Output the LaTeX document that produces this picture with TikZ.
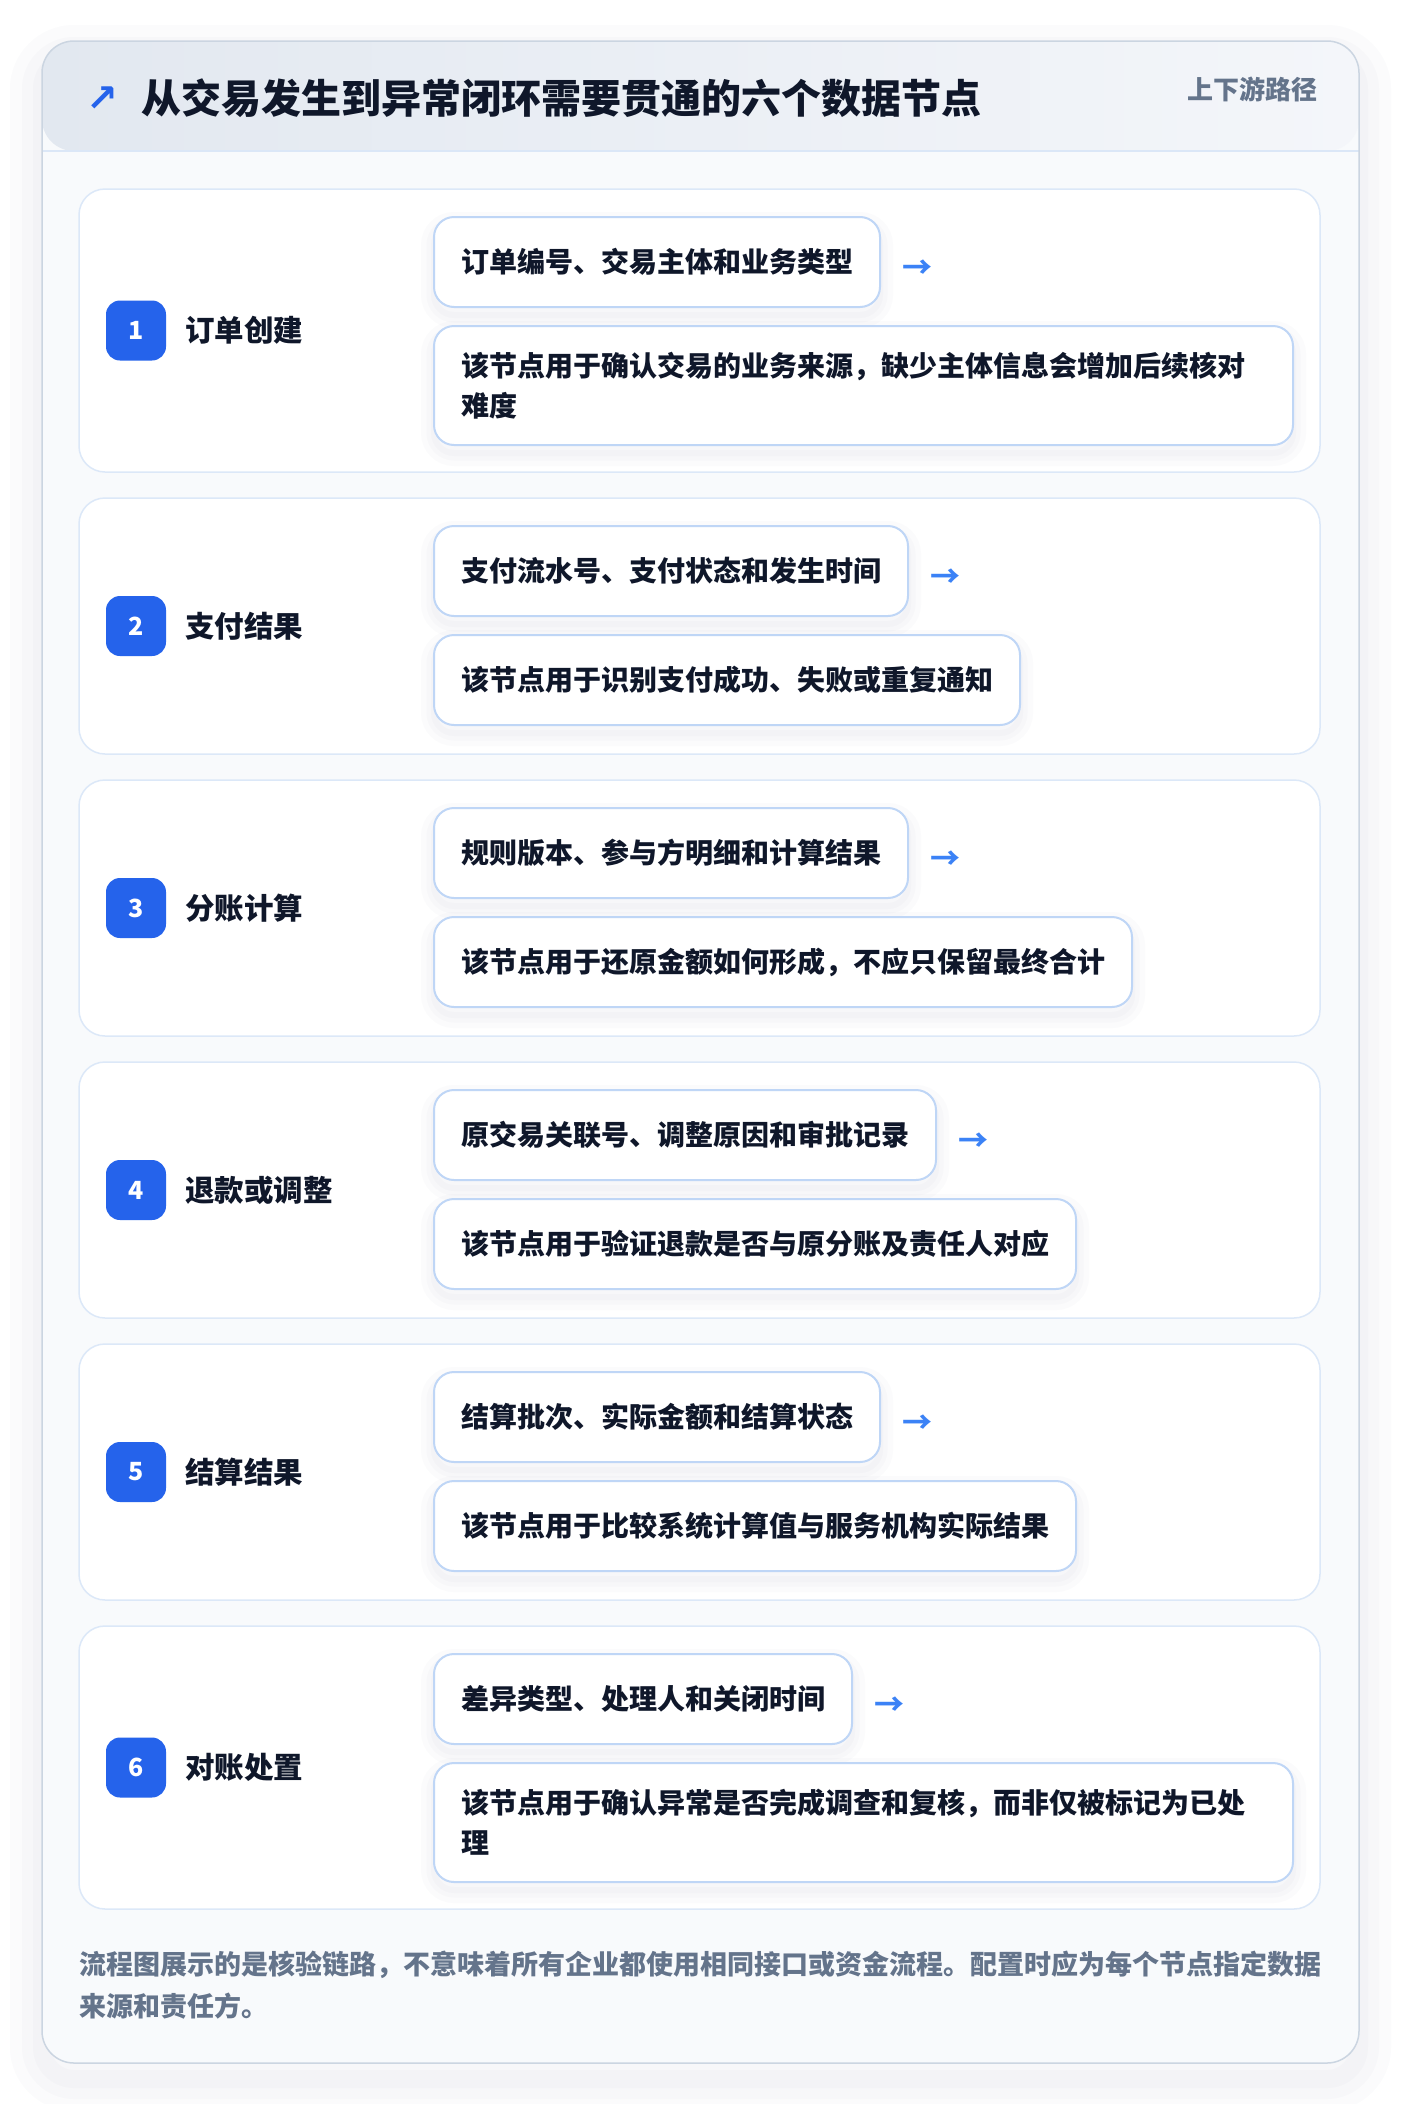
\documentclass[tikz,border=0pt]{standalone}
\usepackage{fontspec}
\setmainfont{Noto Sans CJK SC}
\newfontfamily\iconfont{DejaVu Sans}
\usetikzlibrary{positioning}

\definecolor{inkdark}{HTML}{0F172A}
\definecolor{slatetext}{HTML}{64748B}
\definecolor{badgeblue}{HTML}{2563EB}
\definecolor{arrowblue}{HTML}{3B82F6}
\definecolor{pillline}{HTML}{BFD6F6}
\definecolor{sectionline}{HTML}{DCE8F8}
\definecolor{cardline}{HTML}{CBD5E1}
\definecolor{cardfill}{HTML}{F8FAFC}
\definecolor{headleft}{HTML}{E2E8F0}
\definecolor{headright}{HTML}{F4F6FA}
\definecolor{headline}{HTML}{DBE7F7}
\definecolor{shadowgrey}{HTML}{64748B}

\tikzset{
  cardshadow/.style={
    preaction={draw=shadowgrey, draw opacity=0.025, line width=64pt, transform canvas={yshift=-16pt}},
    preaction={draw=shadowgrey, draw opacity=0.025, line width=40pt, transform canvas={yshift=-16pt}},
    preaction={draw=shadowgrey, draw opacity=0.025, line width=18pt, transform canvas={yshift=-16pt}}},
  pillshadow/.style={
    preaction={draw=shadowgrey, draw opacity=0.025, line width=26pt, transform canvas={yshift=-8pt}},
    preaction={draw=shadowgrey, draw opacity=0.025, line width=15pt, transform canvas={yshift=-8pt}},
    preaction={draw=shadowgrey, draw opacity=0.025, line width=6pt, transform canvas={yshift=-8pt}}},
  card/.style={cardshadow, anchor=north west, minimum width=1317pt, minimum height=2022pt,
    inner sep=0pt, outer sep=0pt, rounded corners=32pt, fill=cardfill, draw=cardline, line width=1.5pt,
    path picture={
      \shade[left color=headleft, right color=headright]
        (path picture bounding box.north west) rectangle ([yshift=-110pt]path picture bounding box.north east);
      \draw[headline, line width=2pt]
        ([yshift=-110pt]path picture bounding box.north west) -- ([yshift=-110pt]path picture bounding box.north east);
    }},
  section/.style={anchor=north west, minimum width=1241pt, inner sep=0pt, outer sep=0pt,
    rounded corners=26pt, fill=white, draw=sectionline, line width=1.5pt},
  secone/.style={section, minimum height=256pt},
  sectwo/.style={section, minimum height=283pt},
  badge/.style={fill=badgeblue, rounded corners=14pt, minimum size=60pt, inner sep=0pt, outer sep=0pt,
    text=white, font=\fontsize{25}{25}\selectfont\bfseries},
  steplabel/.style={text=inkdark, inner sep=0pt, font=\fontsize{29.5}{30}\selectfont\bfseries},
  pill/.style={pillshadow, fill=white, draw=pillline, line width=2pt, rounded corners=20pt,
    inner xsep=27pt, inner ysep=0pt, outer sep=0pt, minimum height=90pt,
    text=inkdark, font=\fontsize{28}{40}\selectfont\bfseries},
  desctwo/.style={pill, minimum height=119pt, text width=805pt, align=left},
  arrowmark/.style={text=arrowblue, inner sep=0pt, font=\fontsize{30}{30}\selectfont\bfseries},
  note/.style={text=slatetext, inner sep=0pt, align=left, font=\fontsize{27}{41.5}\selectfont\bfseries}
}

\begin{document}
\begin{tikzpicture}[x=1pt, y=-1pt]
\useasboundingbox (0,0) rectangle (1400,2104);
\fill[white] (0,0) rectangle (1400,2104);

%%%%%%%%%%%%%%%%%%%%%%%%%%%%%%%%%%%%%%%%%
% card and header
\node[card] (card) at (42,41) {};

\node[text=badgeblue, inner sep=0pt, font=\iconfont\bfseries\fontsize{38}{38}\selectfont] (icon) at (102,99) {↗};
\node[anchor=west, inner sep=0pt, text=inkdark, font=\fontsize{40}{40}\selectfont\bfseries] (title) at (141,98)
  {从交易发生到异常闭环需要贯通的六个数据节点};
\node[anchor=east, inner sep=0pt, text=slatetext, font=\fontsize{26}{26}\selectfont\bfseries] (tag) at (1318,89)
  {上下游路径};

%%%%%%%%%%%%%%%%%%%%%%%%%%%%%%%%%%%%%%%%%
% 1
\node[sectwo] (s1) at (79,189) {};
\node[badge, right=27pt of s1.west] (b1) {1};
\node[steplabel, right=19pt of b1] (l1) {订单创建};
\node[pill, below right=28pt and 355pt of s1.north west] (p1) {订单编号、交易主体和业务类型};
\node[arrowmark, right=22pt of p1, yshift=-7pt] (a1) {→};
\node[desctwo, below=19pt of p1.south west, anchor=north west] (d1)
  {该节点用于确认交易的业务来源，缺少主体信息会增加后续核对\\难度};

%%%%%%%%%%%%%%%%%%%%%%%%%%%%%%%%%%%%%%%%%
% 2
\node[secone, below=26pt of s1.south west, anchor=north west] (s2) {};
\node[badge, right=27pt of s2.west] (b2) {2};
\node[steplabel, right=19pt of b2] (l2) {支付结果};
\node[pill, below right=28pt and 355pt of s2.north west] (p2) {支付流水号、支付状态和发生时间};
\node[arrowmark, right=22pt of p2, yshift=-7pt] (a2) {→};
\node[pill, below=19pt of p2.south west, anchor=north west] (d2) {该节点用于识别支付成功、失败或重复通知};

%%%%%%%%%%%%%%%%%%%%%%%%%%%%%%%%%%%%%%%%%
% 3
\node[secone, below=26pt of s2.south west, anchor=north west] (s3) {};
\node[badge, right=27pt of s3.west] (b3) {3};
\node[steplabel, right=19pt of b3] (l3) {分账计算};
\node[pill, below right=28pt and 355pt of s3.north west] (p3) {规则版本、参与方明细和计算结果};
\node[arrowmark, right=22pt of p3, yshift=-7pt] (a3) {→};
\node[pill, below=19pt of p3.south west, anchor=north west] (d3) {该节点用于还原金额如何形成，不应只保留最终合计};

%%%%%%%%%%%%%%%%%%%%%%%%%%%%%%%%%%%%%%%%%
% 4
\node[secone, below=26pt of s3.south west, anchor=north west] (s4) {};
\node[badge, right=27pt of s4.west] (b4) {4};
\node[steplabel, right=19pt of b4] (l4) {退款或调整};
\node[pill, below right=28pt and 355pt of s4.north west] (p4) {原交易关联号、调整原因和审批记录};
\node[arrowmark, right=22pt of p4, yshift=-7pt] (a4) {→};
\node[pill, below=19pt of p4.south west, anchor=north west] (d4) {该节点用于验证退款是否与原分账及责任人对应};

%%%%%%%%%%%%%%%%%%%%%%%%%%%%%%%%%%%%%%%%%
% 5
\node[secone, below=26pt of s4.south west, anchor=north west] (s5) {};
\node[badge, right=27pt of s5.west] (b5) {5};
\node[steplabel, right=19pt of b5] (l5) {结算结果};
\node[pill, below right=28pt and 355pt of s5.north west] (p5) {结算批次、实际金额和结算状态};
\node[arrowmark, right=22pt of p5, yshift=-7pt] (a5) {→};
\node[pill, below=19pt of p5.south west, anchor=north west] (d5) {该节点用于比较系统计算值与服务机构实际结果};

%%%%%%%%%%%%%%%%%%%%%%%%%%%%%%%%%%%%%%%%%
% 6
\node[sectwo, below=26pt of s5.south west, anchor=north west] (s6) {};
\node[badge, right=27pt of s6.west] (b6) {6};
\node[steplabel, right=19pt of b6] (l6) {对账处置};
\node[pill, below right=28pt and 355pt of s6.north west] (p6) {差异类型、处理人和关闭时间};
\node[arrowmark, right=22pt of p6, yshift=-7pt] (a6) {→};
\node[desctwo, below=19pt of p6.south west, anchor=north west] (d6)
  {该节点用于确认异常是否完成调查和复核，而非仅被标记为已处\\理};

%%%%%%%%%%%%%%%%%%%%%%%%%%%%%%%%%%%%%%%%%
% footer note
\node[note, below=42pt of s6.south west, anchor=north west] (n1)
  {流程图展示的是核验链路，不意味着所有企业都使用相同接口或资金流程。配置时应为每个节点指定数据\\来源和责任方。};

\end{tikzpicture}
\end{document}
